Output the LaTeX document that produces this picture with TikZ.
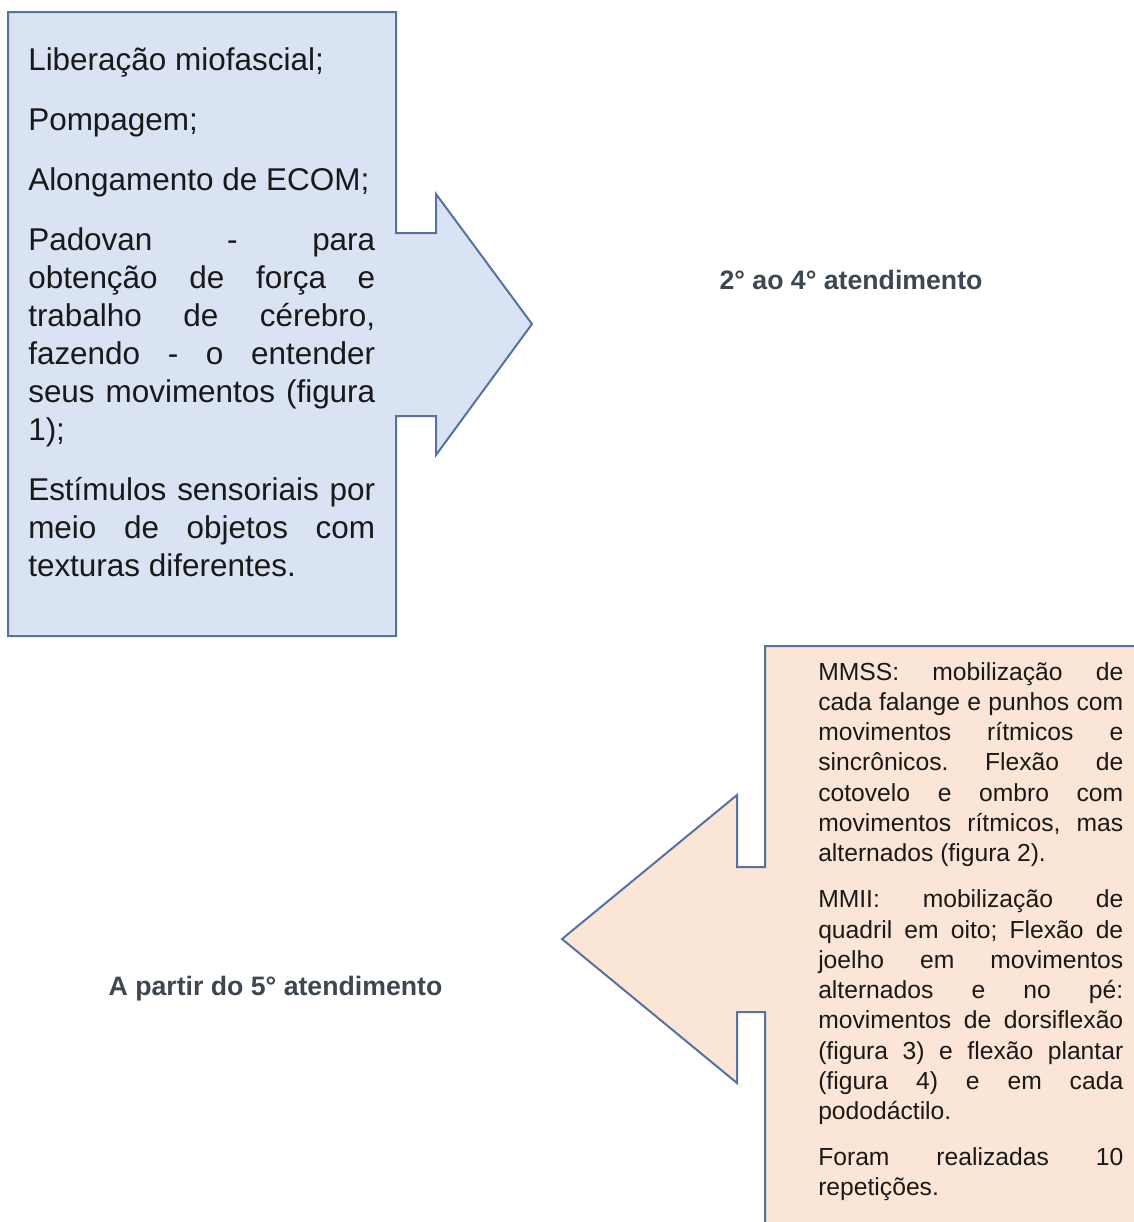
\documentclass[tikz,border=0pt]{standalone}
\usepackage{fontspec}
\setmainfont{Liberation Sans}
\usetikzlibrary{positioning}
\definecolor{bluefill}{RGB}{218,227,243}
\definecolor{orangefill}{RGB}{251,229,214}
\definecolor{shapeline}{RGB}{84,114,164}
\definecolor{labeltext}{RGB}{61,71,81}
\definecolor{boxtext}{RGB}{25,25,25}
\tikzset{x=0.75pt, y=-0.75pt,
  callout/.style={draw=shapeline, line width=1.5pt, line join=miter},
  boxtxt/.style={anchor=north west, inner sep=0pt, align=justify, text=boxtext},
  bluetxt/.style={boxtxt, text width=260.25pt,
    font={\fontsize{23.6}{28.5}\selectfont\frenchspacing\setlength{\parskip}{16.5pt}\tolerance=10000\hbadness=10000}},
  orangetxt/.style={boxtxt, text width=228.75pt,
    font={\fontsize{18.5}{22.7}\selectfont\frenchspacing\setlength{\parskip}{11.8pt}\tolerance=10000\hbadness=10000}},
  steplabel/.style={anchor=base, inner sep=0pt, text=labeltext, font=\bfseries\fontsize{20}{24}\selectfont}
}
\begin{document}
\begin{tikzpicture}
\useasboundingbox (0,0) rectangle (1134,1222);
\clip (0,0) rectangle (1134,1222);
% callout shapes
\draw[callout, fill=bluefill] (8,12) -- (396,12) -- (396,233) -- (436,233) -- (436,194) -- (532,324)
  -- (436,455) -- (436,416) -- (396,416) -- (396,636) -- (8,636) -- cycle;
\draw[callout, fill=orangefill] (765,1300) -- (765,1012) -- (737,1012) -- (737,1083) -- (562,939)
  -- (737,795) -- (737,867) -- (765,867) -- (765,646) -- (1200,646) -- (1200,1300);
% texts
\node[bluetxt] (blue) at (28,47) {Liberação miofascial;\par
Pompagem;\par
Alongamento de ECOM;\par
Padovan - para\linebreak obtenção de força e\linebreak trabalho de cérebro,\linebreak fazendo - o entender\linebreak seus movimentos (figura\linebreak 1);\par
Estímulos sensoriais por\linebreak meio de objetos com\linebreak texturas diferentes.};
\node[orangetxt] (orange) at (818,662) {MMSS: mobilização de\linebreak cada falange e punhos com\linebreak movimentos rítmicos e\linebreak sincrônicos. Flexão de\linebreak cotovelo e ombro com\linebreak movimentos rítmicos, mas\linebreak alternados (figura 2).\par
MMII: mobilização de\linebreak quadril em oito; Flexão de\linebreak joelho em movimentos\linebreak alternados e no pé:\linebreak movimentos de dorsiflexão\linebreak (figura 3) e flexão plantar\linebreak (figura 4) e em cada\linebreak pododáctilo.\par
Foram realizadas 10\linebreak repetições.};
\node[steplabel] (first) at (851,289.6) {2° ao 4° atendimento};
\node[steplabel] (second) at (275.5,995.6) {A partir do 5° atendimento};
\end{tikzpicture}
\end{document}
